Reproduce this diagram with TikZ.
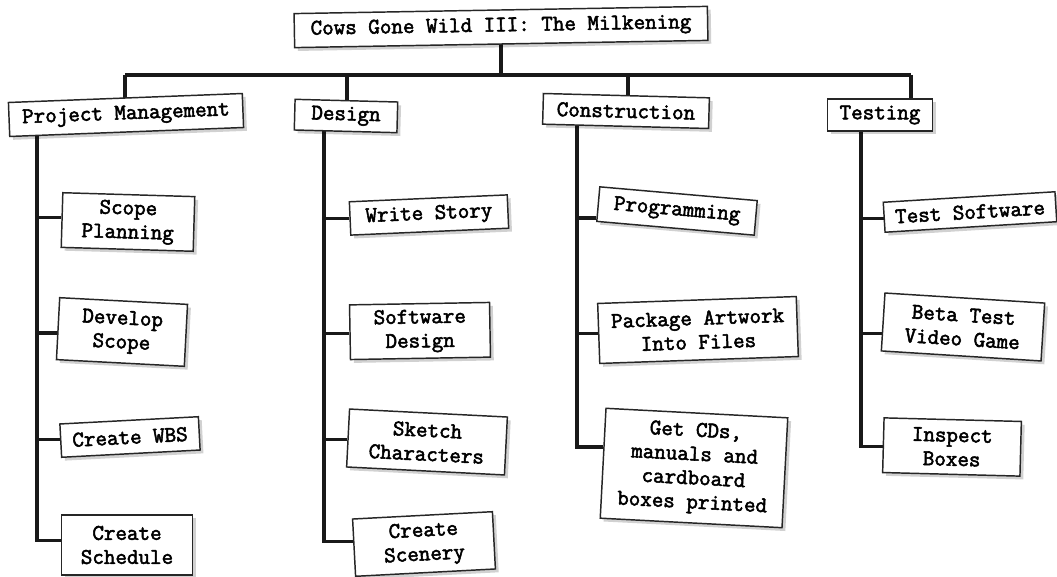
\documentclass[tikz,border=0pt]{standalone}
\usepackage{fontspec}
\newfontfamily\wbsfont{Latin Modern Mono}[FakeBold=2.4]
\usepackage{tikz}
\usetikzlibrary{shadows, backgrounds, calc, positioning}
\tikzset{
  basebox/.style={
    rectangle, draw=black!85, line width=1.1pt, fill=white, align=center, inner sep=2pt,
    font=\wbsfont\fontsize{16.8}{18}\selectfont,
    drop shadow={shadow xshift=2.5pt, shadow yshift=-2.5pt, fill=black, opacity=0.18}
  },
  headbox/.style={basebox, minimum height=23pt},
  taskbox/.style={basebox},
  wbsline/.style={line width=2.5pt, color=black!90}
}

\begin{document}
\begin{tikzpicture}[x=0.75pt, y=-0.75pt]
  \useasboundingbox (0,0) rectangle (1057,577);

  % top level
  \node[basebox, rotate=1, minimum width=310pt, minimum height=25.5pt] (root) at (501,27)
        {Cows Gone Wild III: The Milkening};

  % second level
  \node[headbox, rotate=2.2, minimum width=175.5pt, minimum height=25.5pt] (pm) at (126,115) {Project Management};
  \node[headbox, rotate=-1.5, minimum width=77pt] (design) at (346,116) {Design};
  \node[headbox, rotate=-1.5, minimum width=124.5pt] (constr) at (626,111) {Construction};
  \node[headbox, minimum width=79pt, minimum height=24pt] (testing) at (880,115) {Testing};

  % project management
  \node[taskbox, rotate=-1.7, minimum width=99pt, minimum height=41pt] (scope) at (128,222) {Scope\\Planning};
  \node[taskbox, rotate=-3, minimum width=96pt, minimum height=46.5pt] (develop) at (122,332) {Develop\\Scope};
  \node[taskbox, rotate=3, minimum width=104pt, minimum height=25pt] (wbs) at (130,437) {Create WBS};
  \node[taskbox, minimum width=98pt, minimum height=45pt] (sched) at (127,545) {Create\\Schedule};

  % design
  \node[taskbox, rotate=2.5, minimum width=118.5pt, minimum height=25pt] (story) at (429,215) {Write Story};
  \node[taskbox, rotate=1, minimum width=105pt, minimum height=41pt] (swdesign) at (420,331) {Software\\Design};
  \node[taskbox, rotate=-2.9, minimum width=118.5pt, minimum height=43.5pt] (sketch) at (427,442) {Sketch\\Characters};
  \node[taskbox, rotate=3, minimum width=105pt, minimum height=43pt] (scenery) at (424,544) {Create\\Scenery};

  % construction
  \node[taskbox, rotate=-5, minimum width=118.5pt, minimum height=26pt] (prog) at (677,211) {Programming};
  \node[taskbox, rotate=2, minimum width=149pt, minimum height=45pt] (artwork) at (698,330) {Package Artwork\\Into Files};
  \node[taskbox, rotate=-3, minimum width=136.5pt, minimum height=82.5pt] (print) at (694,468)
        {Get CDs,\\manuals and\\cardboard\\boxes printed};

  % testing
  \node[taskbox, rotate=3.5, minimum width=129pt, minimum height=22.5pt] (testsw) at (970,212) {Test Software};
  \node[taskbox, rotate=-3.6, minimum width=120pt, minimum height=43.5pt] (beta) at (963,327) {Beta Test\\Video Game};
  \node[taskbox, rotate=-1.5, minimum width=103pt, minimum height=41pt] (inspect) at (952,447) {Inspect\\Boxes};

  \begin{scope}[on background layer]
    \fill[white] (0,0) rectangle (1057,577);
    % bus
    \coordinate (bpm) at (125,75);
    \coordinate (bdes) at (347,75);
    \coordinate (bcon) at (628,75);
    \coordinate (btest) at (911,75);
    \draw[wbsline] (root.center) -- (root.center |- bpm);
    \draw[wbsline] (bpm) -- (btest);
    \draw[wbsline] (bpm) -- (bpm |- pm.center);
    \draw[wbsline] (bdes) -- (bdes |- design.center);
    \draw[wbsline] (bcon) -- (bcon |- constr.center);
    \draw[wbsline] (btest) -- (btest |- testing.center);

    % trunks
    \coordinate (tpm) at (37,0);
    \coordinate (tdes) at (324,0);
    \coordinate (tcon) at (577,0);
    \coordinate (ttest) at (861,0);
    \draw[wbsline] (tpm |- pm.center) |- (sched.176);
    \draw[wbsline] (tdes |- design.center) |- (scenery.175);
    \draw[wbsline] (tcon |- constr.center) |- (print.170);
    \draw[wbsline] (ttest |- testing.center) |- (inspect.181);

    \foreach \c/\a in {scope/178, develop/184, wbs/179}
      \draw[wbsline] (tpm |- \c.\a) -- (\c.\a);
    \foreach \c/\a in {story/180, swdesign/181, sketch/181}
      \draw[wbsline] (tdes |- \c.\a) -- (\c.\a);
    \foreach \c/\a in {prog/190, artwork/180}
      \draw[wbsline] (tcon |- \c.\a) -- (\c.\a);
    \foreach \c/\a in {testsw/181, beta/188}
      \draw[wbsline] (ttest |- \c.\a) -- (\c.\a);
  \end{scope}
\end{tikzpicture}
\end{document}
